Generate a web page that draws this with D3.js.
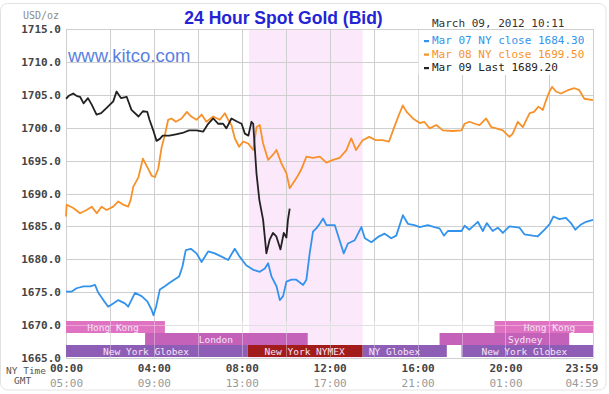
<!DOCTYPE html>
<html>
<head>
<meta charset="utf-8">
<script src="https://cdn.jsdelivr.net/npm/d3@7"></script>
<style>
  body { margin: 0; background: #fff; }
  svg { display: block; }
  .mono { font-family: "DejaVu Sans Mono", monospace; }
  .axis-y text { font-family: "DejaVu Sans Mono", monospace; font-size: 11px; font-weight: bold; fill: #444; }
  .axis-x text { font-family: "DejaVu Sans Mono", monospace; font-size: 11px; font-weight: bold; fill: #444; }
  .axis-gmt text { font-family: "DejaVu Sans Mono", monospace; font-size: 11px; fill: #999; }
</style>
</head>
<body>
<script>
// ---- data (hour of NY day, USD/oz) ----
const yTicks = [1665, 1670, 1675, 1680, 1685, 1690, 1695, 1700, 1705, 1710, 1715];
const hourTicks = [0, 4, 8, 12, 16, 20, 23.983];
const hourLabels = ["00:00", "04:00", "08:00", "12:00", "16:00", "20:00", "23:59"];
const gmtLabels = ["05:00", "09:00", "13:00", "17:00", "21:00", "01:00", "04:59"];
const nymexHours = [8.33, 13.5];

const mar07 = [[0,1675.1],[0.26,1675.1],[0.48,1675.6],[0.8,1675.9],[1.1,1675.9],[1.32,1676.1],[1.47,1674.9],[1.7,1673.8],[1.92,1672.8],[2.15,1673.3],[2.38,1673.8],[2.68,1673.3],[2.83,1672.8],[3.14,1674.9],[3.44,1674.4],[3.7,1673.6],[3.9,1672.3],[3.98,1671.5],[4.1,1672.8],[4.27,1675.4],[4.5,1675.9],[4.7,1676.4],[4.92,1676.9],[5.15,1677.4],[5.3,1678.9],[5.45,1681.4],[5.68,1681.6],[5.94,1680.9],[6.17,1679.6],[6.47,1681.2],[6.77,1680.9],[7.08,1680.4],[7.38,1679.9],[7.68,1681.6],[7.9,1680.4],[8.2,1679.1],[8.52,1678.4],[8.82,1678.1],[9.05,1678.6],[9.2,1679.4],[9.35,1677.4],[9.58,1675.9],[9.73,1673.8],[9.88,1674.4],[10.03,1676.6],[10.26,1676.9],[10.48,1676.9],[10.79,1676.1],[10.94,1676.9],[11.09,1680.9],[11.24,1684.2],[11.39,1684.7],[11.55,1685.4],[11.7,1686.2],[11.85,1685.2],[12.23,1685.2],[12.45,1682.9],[12.64,1680.9],[12.83,1682.4],[13.14,1682.9],[13.44,1684.9],[13.6,1683.2],[13.9,1682.6],[14.2,1683.4],[14.5,1683.9],[14.8,1683.2],[15.03,1683.6],[15.33,1686.7],[15.56,1685.4],[15.85,1685.2],[16.1,1684.9],[16.47,1685.2],[16.77,1684.9],[17.0,1684.7],[17.2,1683.6],[17.38,1684.3],[18.0,1684.3],[18.14,1685.1],[18.36,1684.5],[18.74,1685.7],[18.97,1684.3],[19.15,1685.5],[19.42,1684.3],[19.65,1684.8],[19.88,1684.0],[20.18,1685.0],[20.64,1684.8],[20.86,1683.8],[21.24,1683.6],[21.47,1683.5],[21.78,1684.5],[22.0,1685.3],[22.18,1686.5],[22.45,1686.1],[22.75,1686.3],[22.98,1685.5],[23.18,1684.5],[23.44,1685.3],[23.67,1685.7],[23.98,1686.0]];

const mar08 = [[0,1686.5],[0.03,1688.3],[0.33,1687.8],[0.64,1687.0],[0.94,1687.5],[1.17,1688.0],[1.4,1687.0],[1.62,1688.0],[1.85,1687.5],[2.15,1688],[2.38,1688.8],[2.6,1688.3],[2.83,1688],[2.94,1689],[3.06,1691],[3.3,1692.5],[3.5,1695.3],[3.7,1694],[3.9,1692.7],[4.05,1692.5],[4.2,1693.8],[4.35,1697],[4.5,1698.9],[4.65,1701.2],[4.8,1701.4],[5.0,1700.9],[5.26,1701.4],[5.5,1702.4],[5.7,1701.7],[5.94,1701.2],[6.17,1702],[6.39,1700.9],[6.7,1701.7],[7.0,1701.2],[7.23,1702.2],[7.38,1701.2],[7.53,1700.4],[7.68,1698.4],[7.88,1697.1],[8.06,1697.9],[8.29,1697.6],[8.52,1696.6],[8.67,1700.1],[8.82,1700.4],[8.97,1697.6],[9.2,1695.1],[9.42,1695.9],[9.58,1696.6],[9.8,1694.6],[10.03,1693.1],[10.18,1690.8],[10.48,1692.3],[10.7,1693.6],[10.94,1695.6],[11.24,1695.4],[11.55,1695.6],[11.85,1694.7],[12.15,1695.1],[12.45,1695.4],[12.76,1696.6],[12.98,1698.4],[13.2,1696.6],[13.5,1698.1],[13.8,1698.6],[14.1,1698.1],[14.4,1698.1],[14.7,1697.9],[14.95,1700.2],[15.18,1702.2],[15.33,1703.4],[15.5,1702.4],[15.79,1701.4],[16.1,1700.7],[16.3,1700.9],[16.55,1699.9],[16.85,1700.4],[17.15,1699.6],[17.6,1699.5],[18.0,1699.6],[18.14,1700.6],[18.36,1700.9],[18.6,1700.6],[18.82,1700.4],[19.12,1701.4],[19.35,1700.1],[19.58,1699.9],[19.88,1699.6],[20.18,1698.6],[20.33,1699.1],[20.56,1700.9],[20.79,1700.1],[21.1,1702.2],[21.3,1702.4],[21.5,1703.2],[21.7,1702.7],[21.85,1704.2],[22.0,1705.5],[22.12,1706.2],[22.3,1705.5],[22.53,1705.2],[22.84,1705.7],[23.14,1706],[23.36,1705.7],[23.59,1704.4],[23.98,1704.2]];

const mar09 = [[0,1704.4],[0.15,1704.9],[0.33,1705.2],[0.5,1704.8],[0.64,1704.7],[0.8,1703.7],[1.0,1704.5],[1.17,1703.5],[1.39,1702.0],[1.6,1702.2],[1.85,1703.0],[2.15,1704.0],[2.3,1705.5],[2.5,1704.5],[2.76,1704.7],[2.98,1702.7],[3.3,1701.7],[3.5,1702.5],[3.7,1702.4],[3.8,1701.2],[3.97,1699.6],[4.12,1698.0],[4.27,1698.3],[4.4,1698.8],[4.7,1698.8],[5.0,1699.0],[5.3,1699.2],[5.6,1699.6],[5.94,1699.6],[6.24,1699.4],[6.47,1700.6],[6.7,1701.4],[6.93,1700.6],[7.15,1700.6],[7.3,1699.9],[7.53,1701.4],[7.8,1700.9],[7.99,1700.6],[8.14,1699.1],[8.3,1698.8],[8.44,1700.9],[8.52,1700.6],[8.59,1697],[8.67,1693],[8.8,1689],[8.97,1686],[9.12,1680.9],[9.27,1683],[9.42,1684],[9.57,1683.5],[9.76,1681.5],[9.91,1684],[10.03,1683.3],[10.1,1686],[10.18,1687.7]];

const legendLabels = ["Mar 07 NY close 1684.30", "Mar 08 NY close 1699.50", "Mar 09 Last 1689.20"];

// trading sessions: row, start hour, end hour, where the label sits
const sessions = [
    {name: "Hong Kong", kind: "asia", row: "top", start: 0, end: 4.5, labelAt: 2.14},
    {name: "Hong Kong", kind: "asia", row: "top", start: 19.5, end: 23.983, labelAt: 22.0},
    {name: "London", kind: "europe", row: "mid", start: 3.6, end: 11.0, labelAt: 6.82},
    {name: "Sydney", kind: "europe", row: "mid", start: 17.0, end: 22.9, labelAt: 20.9},
    {name: "New York Globex", kind: "globex", row: "bot", start: 0, end: 8.27, labelAt: 3.64},
    {name: "New York NYMEX", kind: "nymex", row: "bot", start: 8.27, end: 13.5, labelAt: 10.86},
    {name: "NY Globex", kind: "globex", row: "bot", start: 13.5, end: 17.33, labelAt: 14.95},
    {name: "New York Globex", kind: "globex", row: "bot", start: 18.0, end: 23.983, labelAt: 20.86}
];

// ---- layout ----
const width = 609, height = 394;
const plotLeft = 66, plotRight = 593, plotTop = 29, plotBottom = 358;

const svg = d3.select("body").append("svg")
    .attr("width", width)
    .attr("height", height);

// outer frame
svg.append("rect")
    .attr("x", 0.5).attr("y", 3.5)
    .attr("width", 605.5).attr("height", 386.5)
    .attr("rx", 7)
    .attr("fill", "#fff")
    .attr("stroke", "#e2e2e2");

const x = d3.scaleLinear().domain([0, 23.983]).range([plotLeft, plotRight]);
const y = d3.scaleLinear().domain([1665, 1715]).range([plotBottom, plotTop]);
const rowScale = d3.scaleBand().domain(["top", "mid", "bot"]).range([321, 357]);

const sessionColor = {asia: "#e072c2", europe: "#c462ba", globex: "#8e5db6", nymex: "#a31c1c"};
const seriesColor = ["#3393ec", "#f7922b", "#222222"];

// NYMEX pit hours shading
svg.append("rect")
    .attr("x", x(nymexHours[0]))
    .attr("y", plotTop)
    .attr("width", x(nymexHours[1]) - x(nymexHours[0]))
    .attr("height", plotBottom - plotTop)
    .attr("fill", "#fce8fb");

// grid
const gridHours = d3.range(0, 24, 2).concat([23.983]);
svg.append("g").selectAll("line").data(yTicks).enter().append("line")
    .attr("x1", plotLeft).attr("x2", plotRight)
    .attr("y1", d => Math.round(y(d)) + 0.5).attr("y2", d => Math.round(y(d)) + 0.5)
    .attr("stroke", "#cfcfcf");
svg.append("g").selectAll("line").data(gridHours).enter().append("line")
    .attr("x1", d => Math.round(x(d)) + 0.5).attr("x2", d => Math.round(x(d)) + 0.5)
    .attr("y1", plotTop).attr("y2", plotBottom)
    .attr("stroke", "#cfcfcf");

// session bars
svg.append("g").selectAll("rect").data(sessions).enter().append("rect")
    .attr("x", d => x(d.start))
    .attr("y", d => rowScale(d.row))
    .attr("width", d => x(d.end) - x(d.start))
    .attr("height", rowScale.bandwidth())
    .attr("fill", d => sessionColor[d.kind]);

// light grid showing through the bars
const barGrid = svg.append("g").attr("stroke", "rgba(255,255,255,0.35)");
barGrid.selectAll("line.v").data(gridHours.slice(1, -1)).enter().append("line")
    .attr("x1", d => Math.round(x(d)) + 0.5).attr("x2", d => Math.round(x(d)) + 0.5)
    .attr("y1", 321).attr("y2", plotBottom);
barGrid.append("line")
    .attr("x1", plotLeft).attr("x2", plotRight)
    .attr("y1", Math.round(y(1670)) + 0.5).attr("y2", Math.round(y(1670)) + 0.5);

svg.append("g").selectAll("text").data(sessions).enter().append("text")
    .attr("class", "mono")
    .attr("x", d => x(d.labelAt))
    .attr("y", d => rowScale(d.row) + rowScale.bandwidth() / 2 + 3.5)
    .attr("text-anchor", "middle")
    .style("font-size", "9.5px")
    .attr("fill", "#f6e6f6")
    .text(d => d.name);

// price lines
const line = d3.line()
    .x(d => x(d[0]))
    .y(d => y(d[1]));

[mar07, mar08, mar09].forEach((series, i) => {
    svg.append("path")
        .datum(series)
        .attr("fill", "none")
        .attr("stroke", seriesColor[i])
        .attr("stroke-width", 1.8)
        .attr("stroke-linejoin", "round")
        .attr("d", line);
});

// legend box
svg.append("rect")
    .attr("x", x(16) + 1).attr("y", plotTop + 1)
    .attr("width", plotRight - x(16) - 1).attr("height", 45)
    .attr("fill", "#fff");

legendLabels.forEach((label, i) => {
    svg.append("rect")
        .attr("x", 424).attr("y", 40 + i * 13.5)
        .attr("width", 5).attr("height", 2.2)
        .attr("fill", seriesColor[i]);
    svg.append("text")
        .attr("class", "mono")
        .attr("x", 432).attr("y", 44 + i * 13.5)
        .style("font-size", "11px")
        .attr("fill", seriesColor[i])
        .text(label);
});

// y axis
svg.append("g")
    .attr("class", "axis-y")
    .attr("transform", "translate(" + plotLeft + ",0)")
    .call(d3.axisLeft(y).tickValues(yTicks).tickSize(0).tickPadding(5).tickFormat(d3.format(".1f")))
    .call(g => g.select(".domain").remove());

// x axis, NY time and GMT
svg.append("g")
    .attr("class", "axis-x")
    .attr("transform", "translate(0,364)")
    .call(d3.axisBottom(x).tickValues(hourTicks).tickSize(0).tickPadding(0).tickFormat((d, i) => hourLabels[i]))
    .call(g => g.select(".domain").remove())
    .call(g => g.selectAll(".tick:last-of-type text").attr("text-anchor", "end").attr("dx", 5));

svg.append("g")
    .attr("class", "axis-gmt")
    .attr("transform", "translate(0,379)")
    .call(d3.axisBottom(x).tickValues(hourTicks).tickSize(0).tickPadding(0).tickFormat((d, i) => gmtLabels[i]))
    .call(g => g.select(".domain").remove())
    .call(g => g.selectAll(".tick:last-of-type text").attr("text-anchor", "end").attr("dx", 5));

svg.append("text").attr("class", "mono")
    .attr("x", 6).attr("y", 374)
    .style("font-size", "9.5px").attr("fill", "#555")
    .text("NY Time");
svg.append("text").attr("class", "mono")
    .attr("x", 14).attr("y", 384)
    .style("font-size", "9.5px").attr("fill", "#555")
    .text("GMT");

// titles
svg.append("text").attr("class", "mono")
    .attr("x", 23).attr("y", 18.5)
    .style("font-size", "10px").attr("fill", "#8a8a8a")
    .text("USD/oz");

svg.append("text")
    .attr("x", 283.5).attr("y", 24)
    .attr("text-anchor", "middle")
    .style("font-family", "'Liberation Sans', Arial, sans-serif")
    .style("font-size", "17.5px").style("font-weight", "bold")
    .attr("fill", "#2424d4")
    .text("24 Hour Spot Gold (Bid)");

svg.append("text")
    .attr("x", 68).attr("y", 61.5)
    .style("font-family", "'Liberation Sans', Arial, sans-serif")
    .style("font-size", "18.5px")
    .attr("fill", "#5b7fe2")
    .text("www.kitco.com");

svg.append("text").attr("class", "mono")
    .attr("x", 432).attr("y", 26.5)
    .style("font-size", "11px").attr("fill", "#333")
    .text("March 09, 2012 10:11");
</script>
</body>
</html>
